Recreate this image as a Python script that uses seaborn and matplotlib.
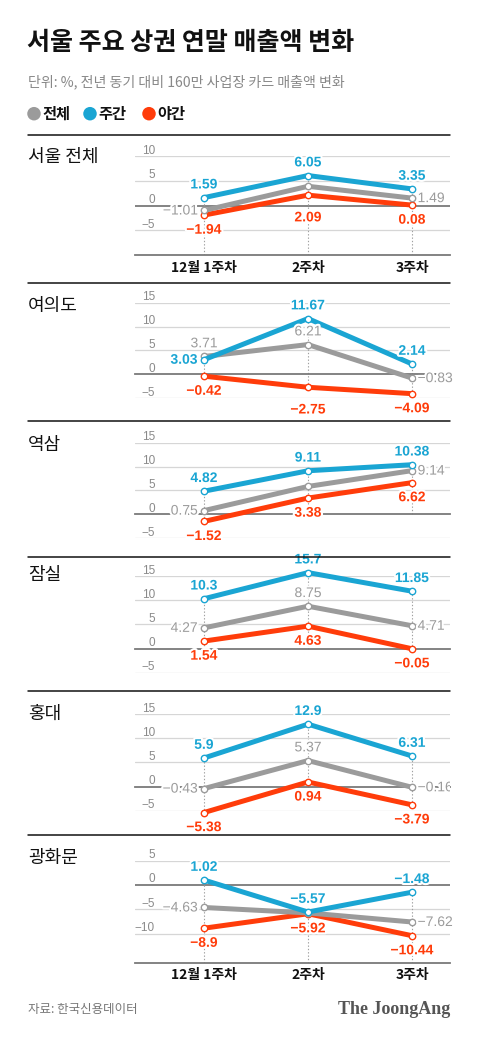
import matplotlib
matplotlib.use('Agg')
import matplotlib.pyplot as plt
import matplotlib.patheffects as pe
from matplotlib.patches import Ellipse
from matplotlib.lines import Line2D
from matplotlib.transforms import Bbox, TransformedBbox
import seaborn as sns
import pandas as pd

# ---------------- data ----------------
WEEKS = ['12월 1주차', '2주차', '3주차']
SERIES = ['전체', '주간', '야간']
PANELS = ['서울 전체', '여의도', '역삼', '잠실', '홍대', '광화문']

total_vals = {
    '서울 전체': [-1.01, 3.88, 1.49],
    '여의도': [3.71, 6.21, -0.83],
    '역삼': [0.75, 5.82, 9.14],
    '잠실': [4.27, 8.75, 4.71],
    '홍대': [-0.43, 5.37, -0.16],
    '광화문': [-4.63, -5.75, -7.62],
}
day_vals = {
    '서울 전체': [1.59, 6.05, 3.35],
    '여의도': [3.03, 11.67, 2.14],
    '역삼': [4.82, 9.11, 10.38],
    '잠실': [10.3, 15.7, 11.85],
    '홍대': [5.9, 12.9, 6.31],
    '광화문': [1.02, -5.57, -1.48],
}
night_vals = {
    '서울 전체': [-1.94, 2.09, 0.08],
    '여의도': [-0.42, -2.75, -4.09],
    '역삼': [-1.52, 3.38, 6.62],
    '잠실': [1.54, 4.63, -0.05],
    '홍대': [-5.38, 0.94, -3.79],
    '광화문': [-8.9, -5.92, -10.44],
}

TITLE = '서울 주요 상권 연말 매출액 변화'
SUBTITLE = '단위: %, 전년 동기 대비 160만 사업장 카드 매출액 변화'
SOURCE = '자료: 한국신용데이터'
BRAND = 'The JoongAng'

# ---------------- layout / style ----------------
W_PX, H_PX = 480, 1037
COLORS = {'전체': '#9b9b9b', '주간': '#1aa5d3', '야간': '#ff3c0a'}
LABEL_COLORS = {'전체': '#9b9b9b', '주간': '#1aa5d3', '야간': '#ff3c0a'}
LABEL_WEIGHT = {'전체': 'normal', '주간': 'bold', '야간': 'bold'}
DRAW_ORDER = ['야간', '전체', '주간']

AX_PX = [(156, 255), (302.7, 398), (442.7, 538), (576, 672.7), (714, 810.7), (860.7, 962.7)]
YLIMS = [(-10, 10), (-5, 15), (-5, 15), (-5, 15), (-5, 15), (-16, 5)]
GRIDS = [[10, 5, -5], [15, 10, 5, -5], [15, 10, 5, -5], [15, 10, 5, -5], [15, 10, 5, -5], [5, -5, -10]]
YLABELS = [[10, 5, 0, -5], [15, 10, 5, 0, -5], [15, 10, 5, 0, -5], [15, 10, 5, 0, -5],
           [15, 10, 5, 0, -5], [5, 0, -5, -10]]
XLABEL_PANELS = {0, 5}
CLIP_PANELS = {4}
TITLE_Y = [156.7, 306, 445, 575, 714, 858.3]
SEPARATORS = [135, 283, 421, 557, 691, 835]
XLIM = (-0.663, 2.365)

LABEL_POS = {
    '서울 전체': {'전체': ['l', None, 'r'], '주간': ['a', 'a', 'a'], '야간': ['b', 'bb', 'b']},
    '여의도': {'전체': ['a', 'a', 'r'], '주간': ['l', 'a', 'a'], '야간': ['b', 'bb', 'b']},
    '역삼': {'전체': ['l', None, 'r'], '주간': ['a', 'a', 'a'], '야간': ['b', 'b', 'b']},
    '잠실': {'전체': ['l', 'a', 'r'], '주간': ['a', 'a', 'a'], '야간': ['b', 'b', 'b']},
    '홍대': {'전체': ['l', 'a', 'r'], '주간': ['a', 'a', 'a'], '야간': ['b', 'b', 'b']},
    '광화문': {'전체': ['l', None, 'r'], '주간': ['a', 'a', 'a'], '야간': ['b', 'b', 'b']},
}
OFFSETS = {'a': ((0, 9.5), 'center'), 'b': ((0, -10.5), 'center'), 'bb': ((0, -16), 'center'),
           'l': ((-4.5, 0), 'right'), 'r': ((4, 0), 'left')}

KR = ['Noto Sans CJK KR', 'DejaVu Sans']
NUM = ['Liberation Sans', 'DejaVu Sans']

sns.set_style('white')
plt.rcParams['font.family'] = KR
plt.rcParams['axes.unicode_minus'] = True


def fx(px):
    return px / W_PX


def fy(px):
    return 1 - px / H_PX


def fmt(v):
    return str(v).replace('-', '\u2212')


fig = plt.figure(figsize=(W_PX / 100, H_PX / 100), dpi=100)
fig.patch.set_facecolor('white')
right_clip = TransformedBbox(Bbox([[0, 0], [fx(450), 1]]), fig.transFigure)

# header
fig.text(fx(27), fy(43), TITLE, fontsize=18, fontweight='black', va='center', ha='left', color='#111')
fig.text(fx(28), fy(82), SUBTITLE, fontsize=10.1, va='center', ha='left', color='#888')
legend_items = [('전체', 34, 42), ('주간', 90, 98), ('야간', 149, 157)]
for s, cx, tx in legend_items:
    fig.add_artist(Ellipse((fx(cx), fy(113.7)), 13.5 / W_PX, 13.5 / H_PX,
                           transform=fig.transFigure, color=COLORS[s], lw=0))
    fig.text(fx(tx), fy(113.7), s, fontsize=11, fontweight='bold', va='center', ha='left', color='#111')

for y in SEPARATORS:
    fig.add_artist(Line2D([fx(28), fx(450)], [fy(y), fy(y)], color='#111', lw=1.1,
                          transform=fig.transFigure))

for i, name in enumerate(PANELS):
    top, bot = AX_PX[i]
    ax = fig.add_axes([fx(135), fy(bot), (450 - 135) / W_PX, (bot - top) / H_PX])
    ax.set_facecolor('none')

    rows = []
    for s, d in zip(SERIES, [total_vals, day_vals, night_vals]):
        for k, v in enumerate(d[name]):
            rows.append({'x': k, 'value': v, 'series': s})
    df = pd.DataFrame(rows)

    # dotted vertical guides
    for k in range(3):
        vals = df[df.x == k]['value']
        ymax = vals.max()
        ymin = YLIMS[i][0] if i in XLABEL_PANELS else min(vals.min(), 0)
        ax.vlines(k, ymin, ymax, colors='#a0a0a0', linestyles=(0, (1.2, 1.8)), lw=0.8, zorder=1.6)

    for s in DRAW_ORDER:
        sub = df[df.series == s]
        sns.lineplot(data=sub, x='x', y='value', ax=ax, color=COLORS[s], linewidth=3.6,
                     marker='o', markersize=4.6, markerfacecolor='white',
                     markeredgecolor=COLORS[s], markeredgewidth=1.0, legend=False,
                     sort=False, zorder=3)
    for ln in ax.lines:
        ln.set_clip_on(False)

    ax.set_xlim(*XLIM)
    ax.set_ylim(*YLIMS[i])
    ax.set_xlabel('')
    ax.set_ylabel('')

    # grid
    ax.set_yticks(GRIDS[i])
    ax.yaxis.grid(True, color='#d6d6d6', lw=0.9)
    ax.xaxis.grid(False)
    ax.set_axisbelow(True)
    ax.tick_params(axis='y', length=0, labelleft=False)
    for sp in ['left', 'right', 'top']:
        ax.spines[sp].set_visible(False)
    ax.spines['bottom'].set_color('#7a7a7a')
    ax.spines['bottom'].set_linewidth(1.3)

    ax.set_xticks([0, 1, 2])
    if i in XLABEL_PANELS:
        ax.axhline(0, color='#7a7a7a', lw=1.3, zorder=1.5)
        ax.set_xticklabels(WEEKS, fontsize=10, fontweight='bold', color='#111')
        ax.tick_params(axis='x', direction='in', length=7, width=1, color='#222', pad=4)
    else:
        ax.spines['bottom'].set_position(('data', 0))
        ax.tick_params(axis='x', direction='in', length=7, width=1, color='#222', labelbottom=False)

    # y labels
    for t in YLABELS[i]:
        ax.annotate(fmt(t), xy=(0.0635, t), xycoords=('axes fraction', 'data'),
                    xytext=(0, 1.8), textcoords='offset points', ha='right', va='baseline',
                    fontsize=8.5, color='#8a8a8a', family=NUM, annotation_clip=False)

    # data labels
    for s, d in zip(SERIES, [total_vals, day_vals, night_vals]):
        for k, v in enumerate(d[name]):
            pos = LABEL_POS[name][s][k]
            if pos is None:
                continue
            off, ha = OFFSETS[pos]
            t = ax.annotate(fmt(v), xy=(k, v), xytext=off, textcoords='offset points',
                            ha=ha, va='center', fontsize=10, fontweight=LABEL_WEIGHT[s],
                            color=LABEL_COLORS[s], family=NUM, zorder=6,
                            annotation_clip=False,
                            path_effects=[pe.withStroke(linewidth=3, foreground='white')])
            if i in CLIP_PANELS:
                t.set_clip_on(True)
                t.set_clip_box(right_clip)
            else:
                t.set_clip_on(False)

    fig.text(fx(28), fy(TITLE_Y[i]), name, fontsize=13, va='center', ha='left', color='#111')

# footer
fig.text(fx(28), fy(1010), SOURCE, fontsize=9, va='center', ha='left', color='#777')
fig.text(fx(450), fy(1010), BRAND, fontsize=13, fontweight='bold', va='center', ha='right',
         color='#555', family=['Liberation Serif', 'DejaVu Serif'])

fig.savefig('out.png', dpi=100)
